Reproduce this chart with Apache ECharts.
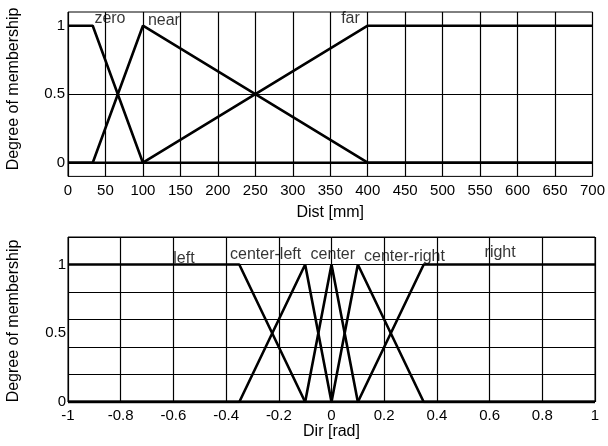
<!DOCTYPE html>
<html><head><meta charset="utf-8">
<script src="https://cdn.jsdelivr.net/npm/echarts@6/dist/echarts.min.js"></script>
<style>html,body{margin:0;padding:0;background:#fff}#c{width:608px;height:446px}</style>
</head><body><div id="c"></div>
<script>
// ---- Top panel: distance membership functions ----
const zeroX = [0, 33, 100, 700];
const zeroY = [1, 1, 0, 0];
const nearX = [0, 33, 100, 400, 700];
const nearY = [0, 0, 1, 0, 0];
const farX = [0, 100, 400, 700];
const farY = [0, 0, 1, 1];
const distLabels = ['zero', 'near', 'far'];
const distLabelX = [56, 128, 377];
const distLabelY = [1.05, 1.04, 1.05];

// ---- Bottom panel: direction membership functions ----
const leftX = [-1, -0.35, -0.1, 1];
const leftY = [1, 1, 0, 0];
const cleftX = [-1, -0.35, -0.1, 0, 1];
const cleftY = [0, 0, 1, 0, 0];
const centerX = [-1, -0.1, 0, 0.1, 1];
const centerY = [0, 0, 1, 0, 0];
const crightX = [-1, 0, 0.1, 0.35, 1];
const crightY = [0, 0, 1, 0, 0];
const rightX = [-1, 0.1, 0.35, 1];
const rightY = [0, 0, 1, 1];
const dirLabels = ['left', 'center-left', 'center', 'center-right', 'right'];
const dirLabelX = [-0.56, -0.25, 0.005, 0.277, 0.64];
const dirLabelY = [1.04, 1.07, 1.07, 1.06, 1.09];

const yShown = [0, 0.5, 1];

function zip(xs, ys) { return xs.map((x, i) => [x, ys[i]]); }
const FONT = 'Liberation Sans, Arial, Helvetica, sans-serif';
const TICK = 15, TXT = 16;
const lineStyle = { color: '#000', width: 2.6 };
function lineSeries(xs, ys, gi, extra) {
  return Object.assign({
    type: 'line', xAxisIndex: gi, yAxisIndex: gi === 0 ? 0 : 1,
    data: zip(xs, ys), symbol: 'none', lineStyle: lineStyle,
    silent: true, z: 3, animation: false
  }, extra || {});
}
function labelSeries(names, xs, ys, xi, yi) {
  return {
    type: 'scatter', xAxisIndex: xi, yAxisIndex: yi, symbolSize: 0, z: 5,
    silent: true, animation: false,
    data: names.map((n, i) => [xs[i], ys[i], n]),
    label: { show: true, position: 'inside', formatter: p => p.data[2],
      color: '#000', fontSize: TXT, fontFamily: FONT }
  };
}
const yFmt = v => (yShown.some(s => Math.abs(s - v) < 1e-9) ? String(v) : '');

const chart = echarts.init(document.getElementById('c'), null, { renderer: 'canvas' });
chart.setOption({
  backgroundColor: '#fff',
  animation: false,
  textStyle: { fontFamily: FONT },
  grid: [
    { left: 68, right: 13, top: 12, height: 164.4, show: true, borderColor: '#000', borderWidth: 1, containLabel: false },
    { left: 68, right: 13, top: 237, height: 165, show: true, borderColor: '#000', borderWidth: 1, containLabel: false }
  ],
  xAxis: [
    { type: 'value', gridIndex: 0, min: 0, max: 700, interval: 50,
      axisLine: { show: false }, axisTick: { show: false },
      axisLabel: { color: '#000', fontSize: TICK, margin: 7, fontFamily: FONT },
      splitLine: { show: true, lineStyle: { color: '#000', width: 1.2 } },
      name: 'Dist [mm]', nameLocation: 'middle', nameGap: 28,
      nameTextStyle: { color: '#000', fontSize: TXT, fontFamily: FONT } },
    { type: 'value', gridIndex: 1, min: -1, max: 1, interval: 0.2,
      axisLine: { show: false }, axisTick: { show: false },
      axisLabel: { color: '#000', fontSize: TICK, margin: 6, fontFamily: FONT },
      splitLine: { show: true, lineStyle: { color: '#000', width: 1.2 } },
      name: 'Dir [rad]', nameLocation: 'middle', nameGap: 22,
      nameTextStyle: { color: '#000', fontSize: TXT, fontFamily: FONT } }
  ],
  yAxis: [
    { type: 'value', gridIndex: 0, min: -0.1, max: 1.1, interval: 0.1,
      axisLine: { show: false }, axisTick: { show: false },
      axisLabel: { color: '#000', fontSize: TICK, margin: 3, formatter: yFmt, fontFamily: FONT },
      splitLine: { show: false } },
    { type: 'value', gridIndex: 1, min: 0, max: 1.2, interval: 0.1,
      axisLine: { show: false }, axisTick: { show: false },
      axisLabel: { color: '#000', fontSize: TICK, margin: 2, formatter: yFmt, fontFamily: FONT },
      splitLine: { show: false } },
    { type: 'value', gridIndex: 1, min: 0, max: 1.2, interval: 0.2,
      axisLine: { show: false }, axisTick: { show: false },
      axisLabel: { show: false },
      splitLine: { show: true, lineStyle: { color: '#000', width: 1.2 } } }
  ],
  graphic: [
    { type: 'text', x: 14, y: 89, rotation: Math.PI / 2, silent: true,
      style: { text: 'Degree of membership', fill: '#000', font: '16px ' + FONT, align: 'center', verticalAlign: 'middle' } },
    { type: 'text', x: 14, y: 321, rotation: Math.PI / 2, silent: true,
      style: { text: 'Degree of membership', fill: '#000', font: '16px ' + FONT, align: 'center', verticalAlign: 'middle' } }
  ],
  series: [
    lineSeries(zeroX, zeroY, 0, { markLine: { silent: true, symbol: 'none', animation: false,
      label: { show: false }, lineStyle: { color: '#000', width: 1.2, type: 'solid' },
      data: [{ yAxis: 0.5 }] } }),
    lineSeries(nearX, nearY, 0),
    lineSeries(farX, farY, 0),
    lineSeries(leftX, leftY, 1),
    lineSeries(cleftX, cleftY, 1),
    lineSeries(centerX, centerY, 1),
    lineSeries(crightX, crightY, 1),
    lineSeries(rightX, rightY, 1),
    labelSeries(distLabels, distLabelX, distLabelY, 0, 0),
    labelSeries(dirLabels, dirLabelX, dirLabelY, 1, 1)
  ]
});
</script></body></html>
